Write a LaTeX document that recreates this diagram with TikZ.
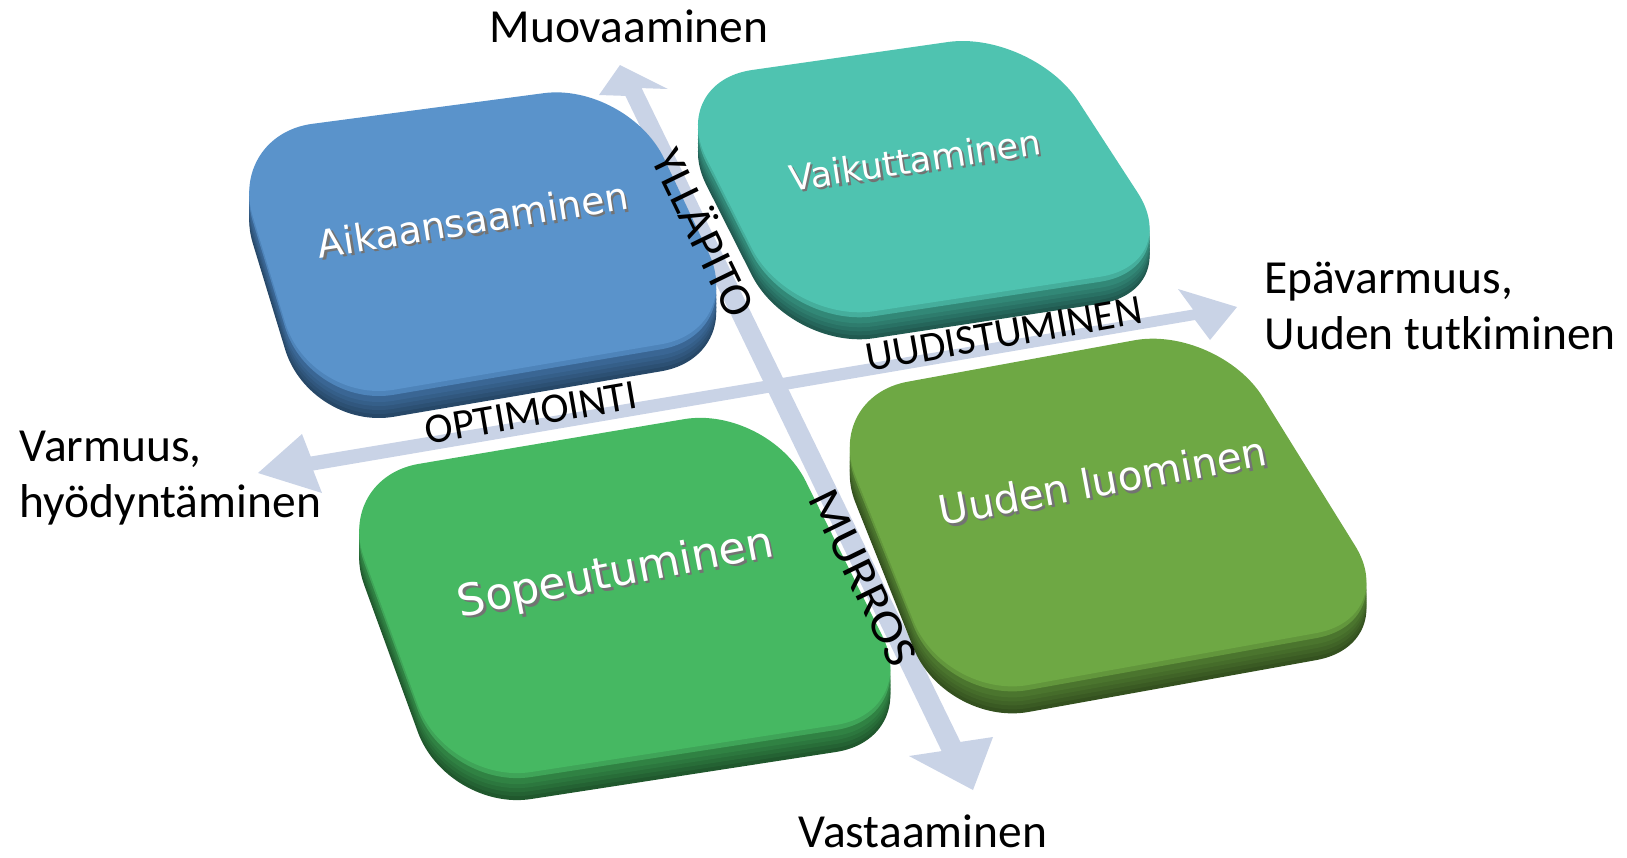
\documentclass[tikz,border=0pt]{standalone}
\usepackage{fontspec}
\setmainfont{Carlito}
\newfontfamily\tilefont{DejaVu Sans}
\usetikzlibrary{calc}

\definecolor{axiscol}{HTML}{C9D3E6}
% tile colours: face, bevel, light and dark side shades
\definecolor{tAfc}{HTML}{5A93CB}\definecolor{tAbv}{HTML}{4E84BA}
\definecolor{tAs1}{HTML}{3F6E9F}\definecolor{tAs3}{HTML}{274868}
\definecolor{tBfc}{HTML}{4FC3B0}\definecolor{tBbv}{HTML}{45AE9C}
\definecolor{tBs1}{HTML}{369381}\definecolor{tBs3}{HTML}{215A50}
\definecolor{tCfc}{HTML}{46B862}\definecolor{tCbv}{HTML}{3FA458}
\definecolor{tCs1}{HTML}{348C49}\definecolor{tCs3}{HTML}{20582D}
\definecolor{tDfc}{HTML}{6EA844}\definecolor{tDbv}{HTML}{62963C}
\definecolor{tDs1}{HTML}{517E32}\definecolor{tDs3}{HTML}{34511F}

% raised rounded slab: #1..#4 corners of the top face, #5 colour prefix
\newcommand\tileslab[5]{%
  \foreach \dd/\mm in {27/100,23/80,19/60,15/40,11/20}{
    \fill[fill=#5s3!\mm!#5s1, rounded corners=8.5mm]
      ($(#1)+(0,\dd)$) -- ($(#2)+(0,\dd)$) -- ($(#3)+(0,\dd)$) -- ($(#4)+(0,\dd)$) -- cycle;
  }
  \fill[fill=#5bv, rounded corners=8.5mm]
    ($(#1)+(0,5)$) -- ($(#2)+(0,5)$) -- ($(#3)+(0,5)$) -- ($(#4)+(0,5)$) -- cycle;
  \fill[fill=#5fc, rounded corners=8.5mm] (#1) -- (#2) -- (#3) -- (#4) -- cycle;
}
% white caption with a grey drop shadow
\newcommand\embossed[1]{\makebox[0pt][l]{\kern0.6pt\raisebox{-0.8pt}{\color{black!55}#1}}#1}

\begin{document}
\begin{tikzpicture}[x=0.01cm,y=-0.01cm,
  outer/.style={font=\fontsize{13.5}{15.7}\selectfont, inner sep=0pt},
  axislab/.style={font=\fontsize{12}{14}\selectfont, inner sep=0pt},
  depthlab/.style={font=\fontsize{13}{15}\selectfont, inner sep=0pt},
  tiletxt/.style={font=\tilefont\fontsize{#1}{#1}\selectfont, inner sep=0pt, text=white},
]
\useasboundingbox (0,0) rectangle (1627,857);

% ---- vertical axis (Muovaaminen -> Vastaaminen)
\coordinate (vT)   at (620,65);
\coordinate (vR1)  at (668,89);
\coordinate (vSRt) at (641.6,88.1);
\coordinate (vSRb) at (960.4,741.9);
\coordinate (vR2)  at (993,737);
\coordinate (vB)   at (973,790);
\coordinate (vL2)  at (909,756);
\coordinate (vSLb) at (941.6,751.1);
\coordinate (vSLt) at (625.4,95.9);
\coordinate (vL1)  at (599,95);
\fill[axiscol] (vT) -- (vR1) -- (vSRt) -- (vSRb) -- (vR2) -- (vB) -- (vL2)
  -- (vSLb) -- (vSLt) -- (vL1) -- cycle;

% ---- horizontal axis (Varmuus -> Epävarmuus)
\coordinate (hL)   at (258,473);
\coordinate (hLwT) at (302,434);
\coordinate (hSLT) at (310.7,456.5);
\coordinate (hSRT) at (1193,309.5);
\coordinate (hRwT) at (1178,289);
\coordinate (hR)   at (1237,307);
\coordinate (hRwB) at (1210,340);
\coordinate (hSRB) at (1195,320);
\coordinate (hSLB) at (313.3,470.5);
\coordinate (hLwB) at (322,493);
\fill[axiscol] (hL) -- (hLwT) -- (hSLT) -- (hSRT) -- (hRwT) -- (hR) -- (hRwB)
  -- (hSRB) -- (hSLB) -- (hLwB) -- cycle;

% ---- tiles
\coordinate (aTL) at (228,135);  \coordinate (aTR) at (628,82);
\coordinate (aBR) at (745,330);  \coordinate (aBL) at (310,404);
\coordinate (bTL) at (668,82);   \coordinate (bTR) at (1032,30);
\coordinate (bBR) at (1184,264); \coordinate (bBL) at (790,324);
\coordinate (cTL) at (335,478);  \coordinate (cTR) at (768,405);
\coordinate (cBR) at (920,712);  \coordinate (cBL) at (447,785);
\coordinate (dTL) at (824,397);  \coordinate (dTR) at (1218,325);
\coordinate (dBR) at (1400,618); \coordinate (dBL) at (945,700);

\tileslab{aTL}{aTR}{aBR}{aBL}{tA}
\tileslab{bTL}{bTR}{bBR}{bBL}{tB}
\tileslab{cTL}{cTR}{cBR}{cBL}{tC}
\tileslab{dTL}{dTR}{dBR}{dBL}{tD}

% ---- tile captions
\node[tiletxt=10.8, rotate=9]    (aT) at (473,221) {\embossed{Aikaansaaminen}};
\node[tiletxt=10, rotate=8.5]    (bT) at (915,161) {\embossed{Vaikuttaminen}};
\node[tiletxt=12.5, rotate=11]   (cT) at (616,576) {\embossed{Sopeutuminen}};
\node[tiletxt=11.5, rotate=10.5] (dT) at (1103,482) {\embossed{Uuden luominen}};

% ---- axis labels
\node[depthlab, rotate=-64, xscale=1.04] (yl) at (706,232) {YLLÄPITO};
\node[depthlab, rotate=-64, xscale=1.13] (mu) at (863,578) {MURROS};
\node[axislab, rotate=9.8] (op) at (531,413) {OPTIMOINTI};
\node[axislab, rotate=10]  (ud) at (1004,334) {UUDISTUMINEN};

% ---- outer labels
\node[outer] (muo) at (629,26) {Muovaaminen};
\node[outer] (vas) at (923,831) {Vastaaminen};
\node[outer, align=left, anchor=west] (var) at (19,478) {Varmuus,\\hyödyntäminen};
\node[outer, align=left, anchor=west] (epa) at (1264,306) {Epävarmuus,\\Uuden tutkiminen};
\end{tikzpicture}
\end{document}
